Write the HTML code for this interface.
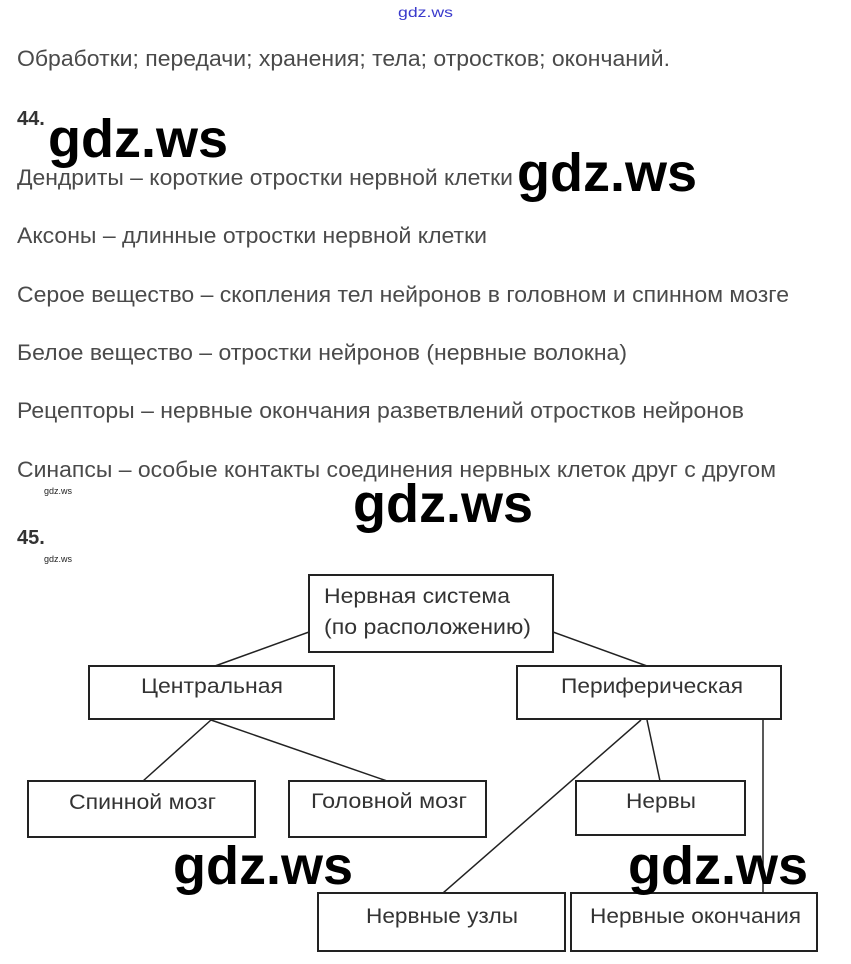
<!DOCTYPE html>
<html><head><meta charset="utf-8"><style>
html,body{margin:0;padding:0;background:#fff;}
svg{display:block}
.t{font-family:"Liberation Sans",Arial,sans-serif;font-size:22px;fill:#4a4a4a}
.b{font-family:"Liberation Sans",Arial,sans-serif;font-weight:bold;fill:#333;font-size:20px}
.w{font-family:"Liberation Sans",Arial,sans-serif;font-weight:bold;fill:#000;font-size:54px}
.s{font-family:"Liberation Sans",Arial,sans-serif;fill:#222;font-size:9px}
.n{font-family:"Liberation Sans",Arial,sans-serif;font-size:21px;fill:#333}
rect{fill:#fff;stroke:#222;stroke-width:2}
line{stroke:#222;stroke-width:1.5}
</style></head><body>
<svg width="851" height="964" xmlns="http://www.w3.org/2000/svg">
<text x="398" y="17" font-family="Liberation Sans, sans-serif" font-size="14" fill="#3a3acc" textLength="55" lengthAdjust="spacingAndGlyphs">gdz.ws</text>
<text class="t" x="17" y="66" textLength="653" lengthAdjust="spacingAndGlyphs">Обработки; передачи; хранения; тела; отростков; окончаний.</text>
<text class="b" x="17" y="125">44.</text>
<text class="t" x="17" y="185" textLength="496" lengthAdjust="spacingAndGlyphs">Дендриты – короткие отростки нервной клетки</text>
<text class="t" x="17" y="243" textLength="470" lengthAdjust="spacingAndGlyphs">Аксоны – длинные отростки нервной клетки</text>
<text class="t" x="17" y="302" textLength="772" lengthAdjust="spacingAndGlyphs">Серое вещество – скопления тел нейронов в головном и спинном мозге</text>
<text class="t" x="17" y="360" textLength="610" lengthAdjust="spacingAndGlyphs">Белое вещество – отростки нейронов (нервные волокна)</text>
<text class="t" x="17" y="418" textLength="727" lengthAdjust="spacingAndGlyphs">Рецепторы – нервные окончания разветвлений отростков нейронов</text>
<text class="t" x="17" y="477" textLength="759" lengthAdjust="spacingAndGlyphs">Синапсы – особые контакты соединения нервных клеток друг с другом</text>
<text class="s" x="44" y="494">gdz.ws</text>
<text class="b" x="17" y="544">45.</text>
<text class="s" x="44" y="562">gdz.ws</text>

<line x1="309" y1="632" x2="215" y2="666"/>
<line x1="553" y1="632" x2="647" y2="666"/>
<line x1="211" y1="720" x2="143" y2="781"/>
<line x1="211" y1="720" x2="387" y2="781"/>
<line x1="641" y1="720" x2="443" y2="893"/>
<line x1="647" y1="720" x2="660" y2="781"/>
<line x1="763" y1="719" x2="763" y2="893"/>

<rect x="309" y="575" width="244" height="77"/>
<rect x="89" y="666" width="245" height="53"/>
<rect x="517" y="666" width="264" height="53"/>
<rect x="28" y="781" width="227" height="56"/>
<rect x="289" y="781" width="197" height="56"/>
<rect x="576" y="781" width="169" height="54"/>
<rect x="318" y="893" width="247" height="58"/>
<rect x="571" y="893" width="246" height="58"/>

<text class="n" x="324" y="603" textLength="186" lengthAdjust="spacingAndGlyphs">Нервная система</text>
<text class="n" x="324" y="634" textLength="207" lengthAdjust="spacingAndGlyphs">(по расположению)</text>
<text class="n" x="141" y="693" textLength="142" lengthAdjust="spacingAndGlyphs">Центральная</text>
<text class="n" x="561" y="693" textLength="182" lengthAdjust="spacingAndGlyphs">Периферическая</text>
<text class="n" x="69" y="809" textLength="147" lengthAdjust="spacingAndGlyphs">Спинной мозг</text>
<text class="n" x="311" y="808" textLength="156" lengthAdjust="spacingAndGlyphs">Головной мозг</text>
<text class="n" x="626" y="808" textLength="70" lengthAdjust="spacingAndGlyphs">Нервы</text>
<text class="n" x="366" y="923" textLength="152" lengthAdjust="spacingAndGlyphs">Нервные узлы</text>
<text class="n" x="590" y="923" textLength="211" lengthAdjust="spacingAndGlyphs">Нервные окончания</text>

<text class="w" x="48" y="157" textLength="180" lengthAdjust="spacingAndGlyphs">gdz.ws</text>
<text class="w" x="517" y="191" textLength="180" lengthAdjust="spacingAndGlyphs">gdz.ws</text>
<text class="w" x="353" y="522" textLength="180" lengthAdjust="spacingAndGlyphs">gdz.ws</text>
<text class="w" x="173" y="884" textLength="180" lengthAdjust="spacingAndGlyphs">gdz.ws</text>
<text class="w" x="628" y="884" textLength="180" lengthAdjust="spacingAndGlyphs">gdz.ws</text>
</svg>
</body></html>
